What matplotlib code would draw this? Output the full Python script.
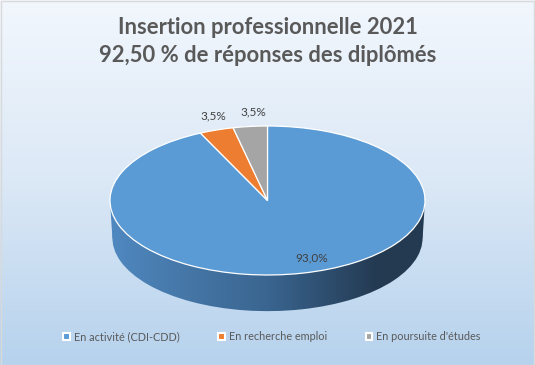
import numpy as np
import matplotlib
matplotlib.use("Agg")
import matplotlib.pyplot as plt
from matplotlib.colors import LinearSegmentedColormap
from matplotlib.patches import Polygon, Rectangle, Patch

categories = ["En activité (CDI-CDD)", "En recherche emploi", "En poursuite d'études"]
values = [93.0, 3.5, 3.5]
colors = ["#5b9bd5", "#ed7d31", "#a5a5a5"]
title_lines = ["Insertion professionnelle 2021", "92,50 % de réponses des diplômés"]

plt.rcParams['font.family'] = ['Lato', 'DejaVu Sans']

W, H = 535, 365
fig = plt.figure(figsize=(W / 100, H / 100), dpi=100)

# background gradient
bg = fig.add_axes([0, 0, 1, 1])
bg.set_axis_off()
bgcm = LinearSegmentedColormap.from_list("bg", ["#f2f7fd", "#dbe8f6", "#b6d2ed"])
grad = np.linspace(0, 1, 256).reshape(-1, 1)
bg.imshow(grad, aspect="auto", cmap=bgcm, extent=(0, 1, 0, 1), origin="upper")
bg.add_patch(Rectangle((0.5 / W, 0.5 / H), 1 - 1.5 / W, 1 - 1.5 / H, fill=False,
                       edgecolor="#d9d9d9", linewidth=1.0, transform=bg.transAxes))
bg.set_xlim(0, 1); bg.set_ylim(0, 1)

# pie axes
cx, cy = 267.5, 200.5
a_px, b_px = 157.5, 74.5
ylo, yhi = -1.6, 1.1
ax_h = (yhi - ylo) * b_px
top_px = cy - yhi * b_px
ax = fig.add_axes([(cx - a_px) / W, (H - top_px - ax_h) / H, 2 * a_px / W, ax_h / H])
ax.set_axis_off()

depth = 0.5
rb = 0.985
# bottom (side) pie, used as clip shape
bwedges, _ = ax.pie(values, colors=colors, startangle=90, counterclock=False,
                    center=(0, -depth), radius=rb, frame=True)
for w in bwedges:
    w.set_visible(False)
band = Polygon([(-1, 0), (1, 0), (rb, -depth), (-rb, -depth)], closed=True,
               transform=ax.transData, visible=False)
ax.add_patch(band)

sidecm = LinearSegmentedColormap.from_list(
    "side", [(0.0, "#4f88c0"), (0.25, "#4576a6"), (0.5, "#3a6590"),
             (0.72, "#2c4a69"), (0.85, "#243a52"), (1.0, "#233a51")])
hgrad = np.linspace(0, 1, 256).reshape(1, -1)
for clip in [bwedges[0], band]:
    im = ax.imshow(hgrad, cmap=sidecm, aspect="auto",
                   extent=(-1, 1, -depth - 1, 0.05), zorder=1)
    im.set_clip_path(clip)

# top pie
twedges, _ = ax.pie(values, colors=colors, startangle=90, counterclock=False,
                    radius=1, frame=True,
                    wedgeprops=dict(edgecolor="white", linewidth=0.9, zorder=3))
for w in twedges:
    w.set_zorder(3)

# labels
lab_r = [0.82, 1.19, 1.19]
lab_off = [7.5, -2.0, -2.0]
for w, v, r, off in zip(twedges, values, lab_r, lab_off):
    mid = np.deg2rad((w.theta1 + w.theta2) / 2 + off)
    txt = f"{v:.1f}%".replace(".", ",")
    ax.text(r * np.cos(mid), r * np.sin(mid), txt, ha="center", va="center",
            fontsize=8.5, color="#404040", zorder=5, clip_on=False)

ax.set_aspect("auto")
ax.set_xlim(-1, 1)
ax.set_ylim(ylo, yhi)

# title
fig.text(0.5, 1 - 27 / H, title_lines[0], ha="center", va="center",
         fontsize=15.8, fontweight="bold", color="#595959")
fig.text(0.5, 1 - 56 / H, title_lines[1], ha="center", va="center",
         fontsize=15.8, fontweight="bold", color="#595959")

# legend
handles = [Patch(facecolor=c, edgecolor="white", linewidth=1.5) for c in colors]
leg = fig.legend(handles, categories, loc="center", ncol=3, frameon=False,
                 bbox_to_anchor=(272 / W, 1 - 337 / H), fontsize=7.8,
                 handlelength=0.6, handleheight=0.6, handletextpad=0.35,
                 columnspacing=3.6, labelcolor="#595959")

fig.savefig("out.png", dpi=100)
